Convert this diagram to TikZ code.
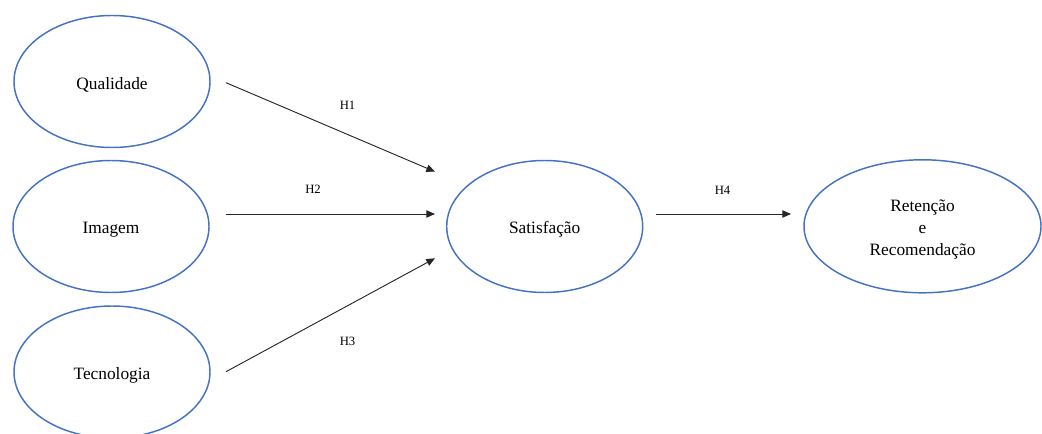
\documentclass[tikz,border=0pt]{standalone}
\usepackage{fontspec}
\setmainfont{Liberation Serif}
\usetikzlibrary{shapes.geometric,arrows.meta}
\definecolor{ellblue}{HTML}{4472C4}
\definecolor{arrgray}{HTML}{262626}
\newcommand{\lowtext}[1]{\raisebox{-2.3pt}[\height][\depth]{#1}}
\begin{document}
\begin{tikzpicture}[x=0.75pt,y=-0.75pt,
  construct/.style={ellipse,draw=ellblue,line width=1.1pt,inner sep=0pt,
    minimum width=196*0.75pt,minimum height=132*0.75pt,
    font=\fontsize{13}{16.5}\selectfont},
  arr/.style={draw=arrgray,line width=0.7pt,-{Triangle[length=6.5pt,width=5.5pt]}},
  hyp/.style={font=\fontsize{9.5}{11}\selectfont,inner sep=0pt}]
\useasboundingbox (0,0) rectangle (1042,434);
\node[construct] (q) at (112,81.5) {\lowtext{Qualidade}};
\node[construct] (i) at (111,226.5) {\lowtext{Imagem}};
\node[construct] (t) at (112,372) {\lowtext{Tecnologia}};
\node[construct] (s) at (544.7,226.5) {\lowtext{Satisfação}};
\node[construct,minimum width=237*0.75pt,minimum height=133*0.75pt] (r) at (922.5,226.3)
  {\lowtext{\begin{tabular}{@{}c@{}}Retenção\\e\\Recomendação\end{tabular}}};
\coordinate (qo) at (226,82.7);
\coordinate (io) at (226,214);
\coordinate (to) at (226,371.7);
\coordinate (s1) at (435,171.7);
\coordinate (s2) at (435,214);
\coordinate (s3) at (435,258.3);
\coordinate (so) at (656,214);
\coordinate (ri) at (791,214);
\draw[arr] (qo) -- (s1);
\draw[arr] (io) -- (s2);
\draw[arr] (to) -- (s3);
\draw[arr] (so) -- (ri);
\node[hyp] (h1) at (347.5,105) {H1};
\node[hyp] (h2) at (313,189) {H2};
\node[hyp] (h3) at (347.5,341.5) {H3};
\node[hyp] (h4) at (722.5,190) {H4};
\end{tikzpicture}
\end{document}
